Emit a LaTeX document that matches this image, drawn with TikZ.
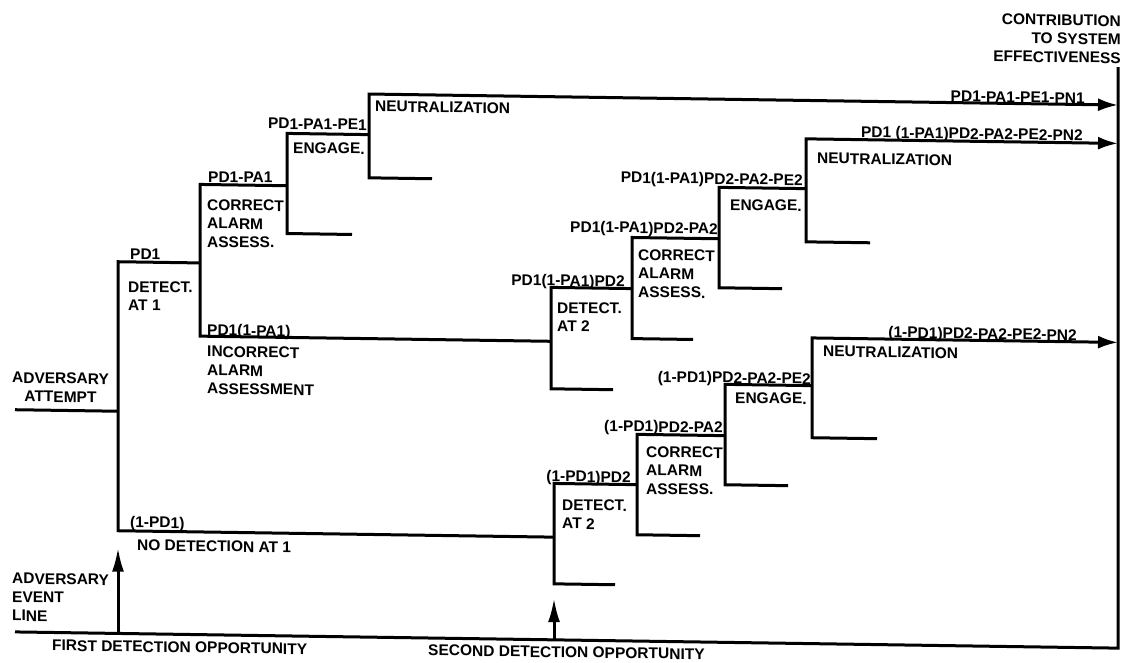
\documentclass[tikz,border=0pt]{standalone}
\usepackage{fontspec}
\usepackage{pdfrender}
\newfontfamily\lblfont{Liberation Sans}
\usetikzlibrary{arrows.meta}
\begin{document}
\begin{tikzpicture}[x=1pt,y=-1pt,
  edge/.style={line width=3pt,line cap=butt,line join=miter},
  arr/.style={edge,-{Latex[length=20pt,width=13pt]}},
  uparr/.style={edge,-{Latex[length=24pt,width=12pt]}},
  lbl/.style={font=\lblfont\bfseries\fontsize{15.5}{18.5}\selectfont\pdfrender{TextRenderingMode=FillStroke,LineWidth=1.1pt},inner sep=0pt,transform shape},
]
\useasboundingbox (0,0) rectangle (1123,663);
% the whole tree leans slightly, as on the printed page
\begin{scope}[cm={1,-0.0147,0,1,(0pt,0pt)}]
% ---------- junction points ----------
\coordinate (r0) at (15,409.5);  \coordinate (r1) at (118,409.5);
\coordinate (rT) at (118,260);   \coordinate (rB) at (118,529);
% detection at 1
\coordinate (j1) at (200,260);   \coordinate (j1T) at (200,181.5); \coordinate (j1B) at (200,333.2);
\coordinate (j2) at (287,181.5); \coordinate (j2T) at (287,129.2); \coordinate (j2B) at (287,229.3); \coordinate (j2S) at (352,229.3);
\coordinate (j3) at (369,129.2); \coordinate (j3T) at (369,88.6);  \coordinate (j3B) at (369,172.4); \coordinate (j3S) at (432,172.4);
\coordinate (e1) at (1118,88.6);
% incorrect assessment, second chance
\coordinate (k1) at (551,333.2); \coordinate (k1T) at (551,279.3); \coordinate (k1B) at (551,380.7); \coordinate (k1S) at (613,380.7);
\coordinate (k2) at (632,279.3); \coordinate (k2T) at (632,228.2); \coordinate (k2B) at (632,329.3); \coordinate (k2S) at (693,329.3);
\coordinate (k3) at (719,228.2); \coordinate (k3T) at (719,176.8); \coordinate (k3B) at (719,277.2); \coordinate (k3S) at (782,277.2);
\coordinate (k4) at (806,176.8); \coordinate (k4T) at (806,127);   \coordinate (k4B) at (806,230);   \coordinate (k4S) at (870,230);
\coordinate (e2) at (1118,127);
% no detection at 1, second chance
\coordinate (l1) at (554,529);   \coordinate (l1T) at (554,475.3); \coordinate (l1B) at (554,575.7); \coordinate (l1S) at (615,575.7);
\coordinate (l2) at (637,475.3); \coordinate (l2T) at (637,425);   \coordinate (l2B) at (637,525.4); \coordinate (l2S) at (700,525.4);
\coordinate (l3) at (725,425);   \coordinate (l3T) at (725,373.7); \coordinate (l3B) at (725,474.1); \coordinate (l3S) at (788,474.1);
\coordinate (l4) at (812,373.7); \coordinate (l4T) at (812,326);   \coordinate (l4B) at (812,425.8); \coordinate (l4S) at (877,425.8);
\coordinate (e3) at (1118,326);
% event line and frame
\coordinate (g0) at (15,631.7);  \coordinate (g1) at (1118,631.7); \coordinate (g2) at (1118,50.6);
\coordinate (f1) at (118,631.7); \coordinate (f1t) at (118,546);
\coordinate (f2) at (554,631.7); \coordinate (f2t) at (554,590);

% ---------- branches ----------
\draw[edge] (r0) -- (r1);
\draw[edge] (j1) -- (rT) -- (rB) -- (l1);
\draw[edge] (j2) -- (j1T) -- (j1B) -- (k1);
\draw[edge] (j3) -- (j2T) -- (j2B) -- (j2S);
\draw[arr]  (j3S) -- (j3B) -- (j3T) -- (e1);
\draw[edge] (k2) -- (k1T) -- (k1B) -- (k1S);
\draw[edge] (k3) -- (k2T) -- (k2B) -- (k2S);
\draw[edge] (k4) -- (k3T) -- (k3B) -- (k3S);
\draw[arr]  (k4S) -- (k4B) -- (k4T) -- (e2);
\draw[edge] (l2) -- (l1T) -- (l1B) -- (l1S);
\draw[edge] (l3) -- (l2T) -- (l2B) -- (l2S);
\draw[edge] (l4) -- (l3T) -- (l3B) -- (l3S);
\draw[arr]  (l4S) -- (l4B) -- (l4T) -- (e3);
\draw[edge] (g2) -- (g1) -- (g0);
\draw[uparr] (f1) -- (f1t);
\draw[uparr] (f2) -- (f2t);

% ---------- labels ----------
\node[lbl,anchor=north,align=center] (tAtt) at (60.5,371.7) {ADVERSARY\\ATTEMPT};
\node[lbl,anchor=north west,align=left] (tLine) at (12,572.6) {ADVERSARY\\EVENT\\LINE};
\node[lbl,anchor=north west] (tFirst) at (52,638.9) {FIRST DETECTION OPPORTUNITY};
\node[lbl,anchor=north west] (tSecond) at (428,638.2) {SECOND DETECTION OPPORTUNITY};
\node[lbl,anchor=north east,align=right] (tContr) at (1121,-1.1) {CONTRIBUTION\\TO SYSTEM\\EFFECTIVENESS};

\node[lbl,anchor=north west] (pA) at (130,246.5) {PD1};
\node[lbl,anchor=north west,align=left] (dA) at (128,279.2) {DETECT.\\AT 1};
\node[lbl,anchor=north west] (pB) at (208,168.1) {PD1-PA1};
\node[lbl,anchor=north west,align=left] (dB) at (207,196) {CORRECT\\ALARM\\ASSESS.};
\node[lbl,anchor=north east] (pC) at (367,114) {PD1-PA1-PE1};
\node[lbl,anchor=north west] (dC) at (293,137.8) {ENGAGE.};
\node[lbl,anchor=north west] (dD) at (375,95.1) {NEUTRALIZATION};
\node[lbl,anchor=north east] (pD) at (1085,76.7) {PD1-PA1-PE1-PN1};

\node[lbl,anchor=north west] (pE) at (207,320.9) {PD1(1-PA1)};
\node[lbl,anchor=north west,align=left] (dE) at (207,342.8) {INCORRECT\\ALARM\\ASSESSMENT};
\node[lbl,anchor=north east] (pF) at (625,266.3) {PD1(1-PA1)PD2};
\node[lbl,anchor=north west,align=left] (dF) at (557,293.9) {DETECT.\\AT 2};
\node[lbl,anchor=north east] (pG) at (718,212.2) {PD1(1-PA1)PD2-PA2};
\node[lbl,anchor=north west,align=left] (dG) at (638,239.7) {CORRECT\\ALARM\\ASSESS.};
\node[lbl,anchor=north east] (pH) at (803,162.2) {PD1(1-PA1)PD2-PA2-PE2};
\node[lbl,anchor=north west] (dH) at (730,188.3) {ENGAGE.};
\node[lbl,anchor=north east] (pI) at (1083,113.4) {PD1 (1-PA1)PD2-PA2-PE2-PN2};
\node[lbl,anchor=north west] (dI) at (817,140.6) {NEUTRALIZATION};

\node[lbl,anchor=north west] (pJ) at (130,514.2) {(1-PD1)};
\node[lbl,anchor=north west] (dJ) at (137,537.4) {NO DETECTION AT 1};
\node[lbl,anchor=north east] (pK) at (631,462) {(1-PD1)PD2};
\node[lbl,anchor=north west,align=left] (dK) at (562,490.9) {DETECT.\\AT 2};
\node[lbl,anchor=north east] (pL) at (723,410.9) {(1-PD1)PD2-PA2};
\node[lbl,anchor=north west,align=left] (dL) at (646,436.5) {CORRECT\\ALARM\\ASSESS.};
\node[lbl,anchor=north east] (pM) at (811,360.9) {(1-PD1)PD2-PA2-PE2};
\node[lbl,anchor=north west] (dM) at (735,381.3) {ENGAGE.};
\node[lbl,anchor=north east] (pN) at (1077,313.2) {(1-PD1)PD2-PA2-PE2-PN2};
\node[lbl,anchor=north west] (dN) at (823,333.5) {NEUTRALIZATION};
\end{scope}
\end{tikzpicture}
\end{document}
